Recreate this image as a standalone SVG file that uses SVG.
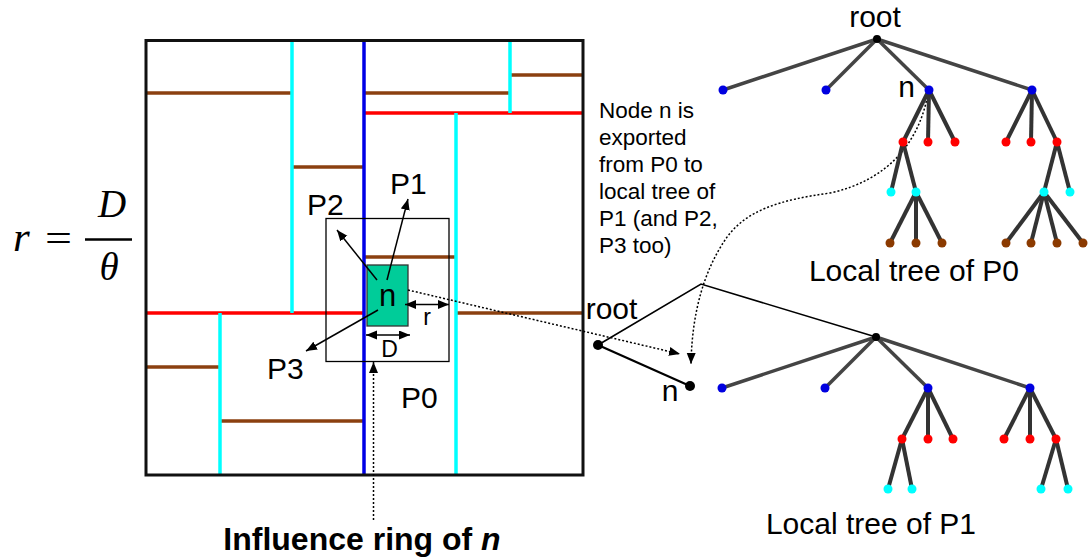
<svg xmlns="http://www.w3.org/2000/svg" width="1088" height="558" viewBox="0 0 1088 558">
<defs>
<marker id="ah" markerUnits="userSpaceOnUse" markerWidth="12" markerHeight="10" refX="11" refY="4.5" orient="auto-start-reverse"><path d="M0,0 L11,4.5 L0,9 z" fill="#000"/></marker>
<style>
.t{font-family:"Liberation Sans",Arial,sans-serif;fill:#000}
.m{font-family:"Liberation Serif","Times New Roman",serif;font-style:italic;fill:#000}
.br{stroke:#8B4010;stroke-width:3.5;fill:none}
.cy{stroke:#00FFFF;stroke-width:3.5;fill:none}
.bl{stroke:#0000E6;stroke-width:3.5;fill:none}
.rd{stroke:#FF0000;stroke-width:3.5;fill:none}
.ar{stroke:#000;stroke-width:1.5;fill:none;marker-end:url(#ah)}
.dar{stroke:#000;stroke-width:1.5;fill:none;marker-end:url(#ah);marker-start:url(#ah)}
.dot{stroke:#000;stroke-width:1.5;stroke-dasharray:2,2;fill:none}
.e{stroke:#333;stroke-width:4;fill:none}
.e1{stroke:#444;stroke-width:3.5;fill:none}
.thin{stroke:#000;stroke-width:1.6;fill:none}
.nb{fill:#0000E0}
.nr{fill:#FF0000}
.nc{fill:#00FFFF}
.nw{fill:#8B3A00}
.nk{fill:#000}
</style>
</defs>

<g id="formula">
<text class="m" x="13" y="251" font-size="43">r</text>
<text class="t" x="45" y="252" font-size="40" textLength="27" lengthAdjust="spacingAndGlyphs" style="font-family:'Liberation Serif',serif">=</text>
<line x1="85" y1="239.5" x2="132" y2="239.5" stroke="#000" stroke-width="2.5"/>
<text class="m" x="112" y="217" font-size="39" text-anchor="middle">D</text>
<text class="m" x="109" y="280" font-size="39" text-anchor="middle">θ</text>
</g>

<g id="partition">
<line class="br" x1="146" y1="93" x2="292" y2="93"/>
<line class="br" x1="364" y1="93" x2="510" y2="93"/>
<line class="br" x1="510" y1="75" x2="582" y2="75"/>
<line class="br" x1="292" y1="167" x2="364" y2="167"/>
<line class="br" x1="364" y1="257" x2="456" y2="257"/>
<line class="br" x1="456" y1="313" x2="582" y2="313"/>
<line class="br" x1="146" y1="367" x2="220" y2="367"/>
<line class="br" x1="220" y1="421" x2="364" y2="421"/>
<line class="rd" x1="364" y1="113" x2="582" y2="113"/>
<line class="rd" x1="146" y1="313" x2="364" y2="313"/>
<line class="cy" x1="292" y1="41" x2="292" y2="313"/>
<line class="cy" x1="510" y1="41" x2="510" y2="113"/>
<line class="cy" x1="456" y1="113" x2="456" y2="475"/>
<line class="cy" x1="220" y1="313" x2="220" y2="475"/>
<line class="bl" x1="364" y1="41" x2="364" y2="475"/>
<rect x="146" y="40.5" width="437" height="434.5" fill="none" stroke="#111" stroke-width="3"/>
</g>

<g id="ring">
<rect x="326" y="218.5" width="123" height="143" fill="none" stroke="#000" stroke-width="1.3"/>
</g>

<g id="node-n">
<rect x="367" y="265" width="41" height="61" fill="#00CC99" stroke="#333" stroke-width="1.3"/>
<text class="t" x="387.5" y="306" font-size="31" text-anchor="middle">n</text>
</g>

<g id="labels">
<text class="t" x="390" y="194" font-size="30">P1</text>
<text class="t" x="307" y="215" font-size="30">P2</text>
<text class="t" x="267" y="379" font-size="30">P3</text>
<text class="t" x="401" y="408" font-size="30">P0</text>
<text class="t" x="427" y="325" font-size="23" text-anchor="middle">r</text>
<text class="t" x="389.5" y="357" font-size="23" text-anchor="middle">D</text>
<text class="t" x="599" y="118" font-size="22.5">Node n is</text>
<text class="t" x="599" y="145" font-size="22.5">exported</text>
<text class="t" x="599" y="172" font-size="22.5">from P0 to</text>
<text class="t" x="599" y="199" font-size="22.5">local tree of</text>
<text class="t" x="599" y="226" font-size="22.5">P1 (and P2,</text>
<text class="t" x="599" y="253" font-size="22.5">P3 too)</text>
<text class="t" x="362" y="550" font-size="32" font-weight="bold" text-anchor="middle">Influence ring of <tspan font-style="italic">n</tspan></text>
</g>

<g id="connectors">
<line class="ar" x1="387" y1="280" x2="408" y2="199"/>
<line class="ar" x1="377" y1="280" x2="337" y2="230"/>
<line class="ar" x1="378" y1="310" x2="306" y2="351"/>
<line class="dar" x1="405" y1="304.5" x2="449" y2="304.5"/>
<line class="dar" x1="366" y1="335" x2="410" y2="335"/>
<line class="dot" x1="408" y1="290" x2="680" y2="354" marker-end="url(#ah)"/>
<line class="dot" x1="373.5" y1="520" x2="373.5" y2="362" marker-end="url(#ah)"/>
<path class="dot" d="M928,93 C920,140 890,180 830,193 C780,200 745,210 725,240 C705,270 692,310 691,364" marker-end="url(#ah)"/>
</g>

<g id="tree-p0">
<text class="t" x="875" y="27" font-size="30" text-anchor="middle">root</text>
<text class="t" x="906.5" y="97" font-size="30" text-anchor="middle">n</text>
<line class="e1" x1="877" y1="39" x2="723" y2="90"/>
<line class="e1" x1="877" y1="39" x2="826" y2="90"/>
<line class="e1" x1="877" y1="39" x2="929" y2="90"/>
<line class="e1" x1="877" y1="39" x2="1032" y2="90"/>
<line class="e" x1="929" y1="90" x2="903" y2="142"/>
<line class="e" x1="929" y1="90" x2="928" y2="142"/>
<line class="e" x1="929" y1="90" x2="955" y2="142"/>
<line class="e" x1="1032" y1="90" x2="1006" y2="142"/>
<line class="e" x1="1032" y1="90" x2="1031" y2="142"/>
<line class="e" x1="1032" y1="90" x2="1057" y2="142"/>
<line class="e" x1="903" y1="142" x2="891" y2="192"/>
<line class="e" x1="903" y1="142" x2="916" y2="192"/>
<line class="e" x1="1057" y1="142" x2="1044" y2="192"/>
<line class="e" x1="1057" y1="142" x2="1070" y2="192"/>
<line class="e" x1="916" y1="192" x2="890" y2="243"/>
<line class="e" x1="916" y1="192" x2="916" y2="243"/>
<line class="e" x1="916" y1="192" x2="942" y2="243"/>
<line class="e" x1="1044" y1="192" x2="1006" y2="243"/>
<line class="e" x1="1044" y1="192" x2="1031" y2="243"/>
<line class="e" x1="1044" y1="192" x2="1057" y2="243"/>
<line class="e" x1="1044" y1="192" x2="1083" y2="243"/>
<circle class="nk" cx="877" cy="39" r="4"/>
<circle class="nb" cx="723" cy="90" r="4.5"/>
<circle class="nb" cx="826" cy="90" r="4.5"/>
<circle class="nb" cx="929" cy="90" r="4.5"/>
<circle class="nb" cx="1032" cy="90" r="4.5"/>
<circle class="nr" cx="903" cy="142" r="4.5"/>
<circle class="nr" cx="928" cy="142" r="4.5"/>
<circle class="nr" cx="955" cy="142" r="4.5"/>
<circle class="nr" cx="1006" cy="142" r="4.5"/>
<circle class="nr" cx="1031" cy="142" r="4.5"/>
<circle class="nr" cx="1057" cy="142" r="4.5"/>
<circle class="nc" cx="891" cy="192" r="4.5"/>
<circle class="nc" cx="916" cy="192" r="4.5"/>
<circle class="nc" cx="1044" cy="192" r="4.5"/>
<circle class="nc" cx="1070" cy="192" r="4.5"/>
<circle class="nw" cx="890" cy="243" r="4.5"/>
<circle class="nw" cx="916" cy="243" r="4.5"/>
<circle class="nw" cx="942" cy="243" r="4.5"/>
<circle class="nw" cx="1006" cy="243" r="4.5"/>
<circle class="nw" cx="1031" cy="243" r="4.5"/>
<circle class="nw" cx="1057" cy="243" r="4.5"/>
<circle class="nw" cx="1083" cy="243" r="4.5"/>
<text class="t" x="914" y="281" font-size="30" text-anchor="middle">Local tree of P0</text>
</g>

<g id="tree-p1">
<text class="t" x="611.5" y="319" font-size="30" text-anchor="middle">root</text>
<text class="t" x="670" y="401" font-size="30" text-anchor="middle">n</text>
<polyline class="thin" points="598,345 701,284 876,337"/>
<line x1="598" y1="345" x2="690" y2="386" stroke="#000" stroke-width="2.2"/>
<circle class="nk" cx="598" cy="345" r="5"/>
<circle class="nk" cx="690" cy="386" r="5"/>
<line class="e1" x1="876" y1="337" x2="722" y2="388"/>
<line class="e1" x1="876" y1="337" x2="825" y2="388"/>
<line class="e1" x1="876" y1="337" x2="928" y2="388"/>
<line class="e1" x1="876" y1="337" x2="1030" y2="388"/>
<line class="e" x1="928" y1="388" x2="902" y2="439"/>
<line class="e" x1="928" y1="388" x2="928" y2="439"/>
<line class="e" x1="928" y1="388" x2="953" y2="439"/>
<line class="e" x1="1030" y1="388" x2="1004" y2="439"/>
<line class="e" x1="1030" y1="388" x2="1030" y2="439"/>
<line class="e" x1="1030" y1="388" x2="1056" y2="439"/>
<line class="e" x1="902" y1="439" x2="888" y2="489"/>
<line class="e" x1="902" y1="439" x2="912" y2="489"/>
<line class="e" x1="1056" y1="439" x2="1041" y2="489"/>
<line class="e" x1="1056" y1="439" x2="1068" y2="489"/>
<circle class="nk" cx="876" cy="337" r="4"/>
<circle class="nb" cx="722" cy="388" r="4.5"/>
<circle class="nb" cx="825" cy="388" r="4.5"/>
<circle class="nb" cx="928" cy="388" r="4.5"/>
<circle class="nb" cx="1030" cy="388" r="4.5"/>
<circle class="nr" cx="902" cy="439" r="4.5"/>
<circle class="nr" cx="928" cy="439" r="4.5"/>
<circle class="nr" cx="953" cy="439" r="4.5"/>
<circle class="nr" cx="1004" cy="439" r="4.5"/>
<circle class="nr" cx="1030" cy="439" r="4.5"/>
<circle class="nr" cx="1056" cy="439" r="4.5"/>
<circle class="nc" cx="888" cy="489" r="4.5"/>
<circle class="nc" cx="912" cy="489" r="4.5"/>
<circle class="nc" cx="1041" cy="489" r="4.5"/>
<circle class="nc" cx="1068" cy="489" r="4.5"/>
<text class="t" x="871" y="534" font-size="30" text-anchor="middle">Local tree of P1</text>
</g>
</svg>
